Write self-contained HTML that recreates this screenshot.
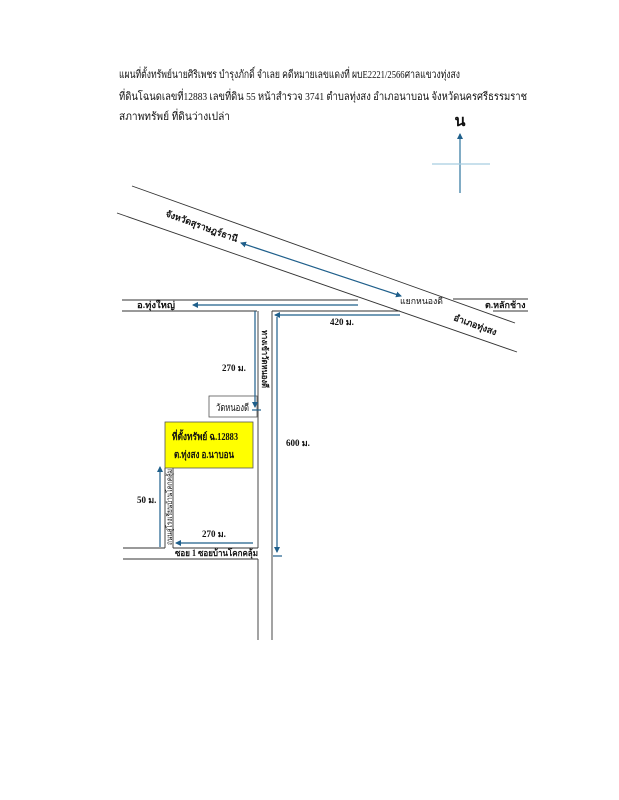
<!DOCTYPE html>
<html><head><meta charset="utf-8"><style>
html,body{margin:0;padding:0;background:#fff;}
svg{display:block;}
text{font-family:"Liberation Serif","DejaVu Serif",serif;fill:#111;}
</style></head><body>
<svg width="619" height="800" viewBox="0 0 619 800" xmlns="http://www.w3.org/2000/svg">
<defs>
<marker id="a" markerWidth="6" markerHeight="6" refX="5" refY="3" orient="auto" markerUnits="userSpaceOnUse"><path d="M0,0 L6,3 L0,6 z" fill="#1f5f8b"/></marker>
<marker id="b" markerWidth="6" markerHeight="6" refX="1" refY="3" orient="auto" markerUnits="userSpaceOnUse"><path d="M6,0 L0,3 L6,6 z" fill="#1f5f8b"/></marker>
</defs>
<g font-size="11">
<text x="119" y="78" textLength="341" lengthAdjust="spacingAndGlyphs">แผนที่ตั้งทรัพย์นายศิริเพชร บำรุงภักดิ์ จำเลย คดีหมายเลขแดงที่ ผบE2221/2566ศาลแขวงทุ่งสง</text>
<text x="119" y="100" textLength="408" lengthAdjust="spacingAndGlyphs">ที่ดินโฉนดเลขที่12883 เลขที่ดิน 55 หน้าสำรวจ 3741 ตำบลทุ่งสง อำเภอนาบอน จังหวัดนครศรีธรรมราช</text>
<text x="119" y="120" textLength="111" lengthAdjust="spacingAndGlyphs">สภาพทรัพย์ ที่ดินว่างเปล่า</text>
</g>
<text x="460" y="126" font-size="16" font-weight="bold" text-anchor="middle">น</text>
<line x1="460" y1="193" x2="460" y2="134" stroke="#3d7fa6" stroke-width="1.3" marker-end="url(#a)"/>
<line x1="432" y1="164" x2="490" y2="164" stroke="#a8cde0" stroke-width="1.3"/>
<g stroke="#333" stroke-width="0.9" fill="none">
<line x1="132" y1="186" x2="515" y2="323"/>
<line x1="117" y1="213" x2="517" y2="352"/>
<line x1="122" y1="300" x2="358" y2="300"/>
<line x1="453" y1="299" x2="528" y2="299"/>
<line x1="122" y1="311" x2="257" y2="311"/>
<line x1="272" y1="311" x2="400" y2="311"/>
<line x1="493" y1="311" x2="528" y2="311"/>
<line x1="258" y1="311" x2="258" y2="548"/>
<line x1="272" y1="311" x2="272" y2="640"/>
<line x1="173" y1="548" x2="258" y2="548"/>
<line x1="123" y1="559" x2="258" y2="559"/>
<line x1="258" y1="559" x2="258" y2="640"/>
<line x1="165" y1="468" x2="165" y2="548"/>
<line x1="173" y1="468" x2="173" y2="548"/>
<line x1="123" y1="548" x2="165" y2="548"/>
</g>
<rect x="165" y="422" width="88" height="46" fill="#ffff00" stroke="#555" stroke-width="0.8"/>
<text x="172" y="440" font-size="10" font-weight="bold" textLength="66" lengthAdjust="spacingAndGlyphs">ที่ตั้งทรัพย์ ฉ.12883</text>
<text x="174" y="458" font-size="10" font-weight="bold" textLength="60" lengthAdjust="spacingAndGlyphs">ต.ทุ่งสง อ.นาบอน</text>
<rect x="209" y="396" width="48" height="21" fill="#fff" stroke="#555" stroke-width="0.8"/>
<text x="216" y="411" font-size="10" textLength="33" lengthAdjust="spacingAndGlyphs">วัดหนองดี</text>
<g stroke="#1f5f8b" stroke-width="1.2" fill="none">
<line x1="241" y1="243" x2="401" y2="296" marker-start="url(#b)" marker-end="url(#a)"/>
<line x1="358" y1="305" x2="193" y2="305" marker-end="url(#a)"/>
<line x1="400" y1="315" x2="275" y2="315" marker-end="url(#a)"/>
<line x1="277" y1="317" x2="277" y2="552" marker-end="url(#a)"/>
<line x1="273" y1="556" x2="282" y2="556"/>
<line x1="255" y1="311" x2="255" y2="407" marker-end="url(#a)"/>
<line x1="252" y1="410" x2="261" y2="410"/>
<line x1="253" y1="543" x2="176" y2="543" marker-end="url(#a)"/>
<line x1="160" y1="547" x2="160" y2="467" marker-end="url(#a)"/>
</g>
<g font-size="9" font-weight="bold">
<text x="222" y="371">270 ม.</text>
<text x="286" y="446">600 ม.</text>
<text x="137" y="503">50 ม.</text>
<text x="202" y="537">270 ม.</text>
<text x="175" y="556" textLength="83" lengthAdjust="spacingAndGlyphs">ซอย 1 ซอยบ้านโคกคลุ้ม</text>
<text x="330" y="325">420 ม.</text>
<text x="400" y="304" font-weight="normal" textLength="43" lengthAdjust="spacingAndGlyphs">แยกหนองดี</text>
<text x="485" y="308">ต.หลักช้าง</text>
<text x="137" y="308" textLength="38" lengthAdjust="spacingAndGlyphs">อ.ทุ่งใหญ่</text>
<text transform="translate(453,320) rotate(20)">อำเภอทุ่งสง</text>
<text transform="translate(165,216) rotate(20)" textLength="76" lengthAdjust="spacingAndGlyphs">จังหวัดสุราษฎร์ธานี</text>
<text transform="translate(262,330) rotate(90)" font-size="8.5" textLength="58" lengthAdjust="spacingAndGlyphs">ทางเข้าวัดหนองดี</text>
<text transform="translate(172,545) rotate(-90)" font-size="7.5" font-weight="normal" textLength="76" lengthAdjust="spacingAndGlyphs">ถนนสู่โรงเรียนบ้านโคกคลุ้ม</text>
</g>
</svg>
</body></html>
